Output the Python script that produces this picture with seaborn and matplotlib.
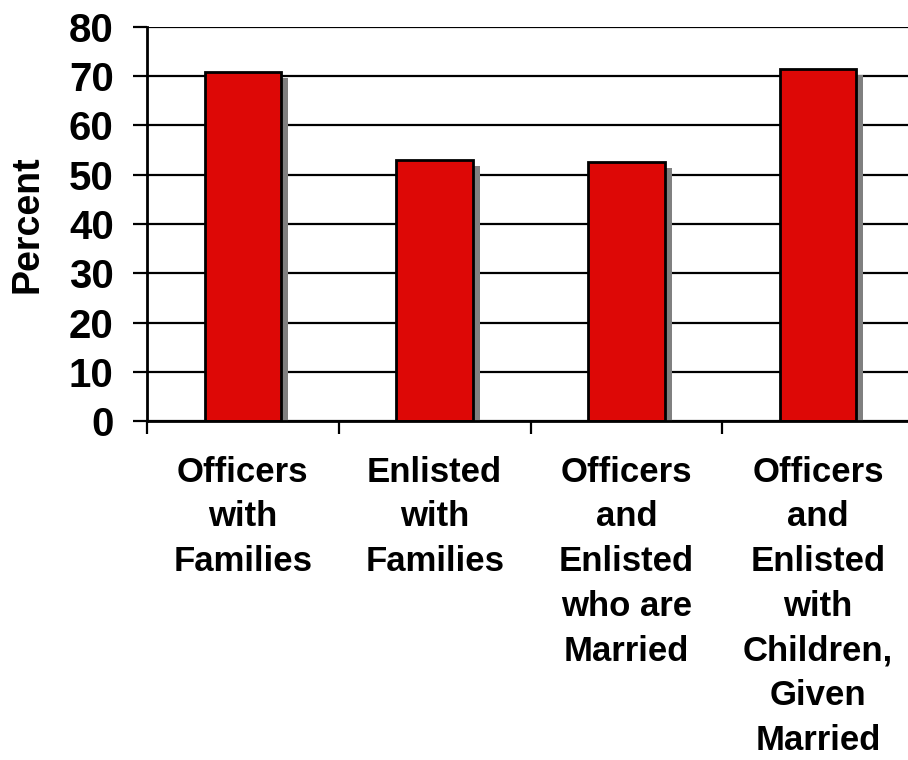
import matplotlib
matplotlib.use("Agg")
import matplotlib.pyplot as plt
import matplotlib.patheffects as pe
import seaborn as sns
import pandas as pd

categories = [
    "Officers\nwith\nFamilies",
    "Enlisted\nwith\nFamilies",
    "Officers\nand\nEnlisted\nwho are\nMarried",
    "Officers\nand\nEnlisted\nwith\nChildren,\nGiven\nMarried",
]
values = [70.9, 53.0, 52.5, 71.5]
yticks = [0, 10, 20, 30, 40, 50, 60, 70, 80]

sns.set_theme(style="white")
plt.rcParams["font.family"] = ["Liberation Sans", "DejaVu Sans"]
plt.rcParams["font.weight"] = "bold"
plt.rcParams["text.color"] = "black"
plt.rcParams["axes.labelcolor"] = "black"
plt.rcParams["xtick.color"] = "black"
plt.rcParams["ytick.color"] = "black"

df = pd.DataFrame({"cat": categories, "val": values})

fig = plt.figure(figsize=(9.08, 7.6), dpi=100)
ax = fig.add_axes([147 / 908, 1 - 421 / 760, 767 / 908, 394 / 760])

sns.barplot(data=df, x="cat", y="val", color="#DD0806", width=0.4,
            edgecolor="black", linewidth=2.0, saturation=1, ax=ax, zorder=3)
for p in ax.patches:
    p.set_path_effects([pe.SimplePatchShadow(offset=(5, -4.3), shadow_rgbFace="#808080", alpha=1.0),
                        pe.Normal()])

ax.set_ylim(0, 80)
ax.set_xlim(-0.5, 3.5)
ax.set_yticks(yticks)
ax.set_yticklabels([str(v) for v in yticks], fontsize=29, fontweight="bold", color="black")
ax.yaxis.grid(True, color="black", linewidth=1.6, zorder=0)
ax.set_axisbelow(True)

ax.set_xticks([-0.5, 0.5, 1.5, 2.5, 3.5])
ax.set_xticklabels([])
ax.set_xticks([0, 1, 2, 3], minor=True)
ax.set_xticklabels(categories, minor=True, fontsize=25, fontweight="bold",
                   linespacing=1.45, color="black")
ax.tick_params(axis="x", which="major", direction="out", length=9, width=1.6, color="black", bottom=True)
ax.tick_params(axis="x", which="minor", length=0, pad=25, bottom=True)
ax.tick_params(axis="y", direction="out", length=10, width=1.6, color="black", pad=14, left=True)

for s in ["top", "right"]:
    ax.spines[s].set_visible(False)
for s in ["left", "bottom"]:
    ax.spines[s].set_color("black")
    ax.spines[s].set_linewidth(2.0)
    ax.spines[s].set_zorder(4)

ax.set_xlabel("")
ax.set_ylabel("Percent", fontsize=27, fontweight="bold", va="center", color="black")
ax.yaxis.set_label_coords(-0.156, 0.5)

fig.savefig("out.png", dpi=100)
